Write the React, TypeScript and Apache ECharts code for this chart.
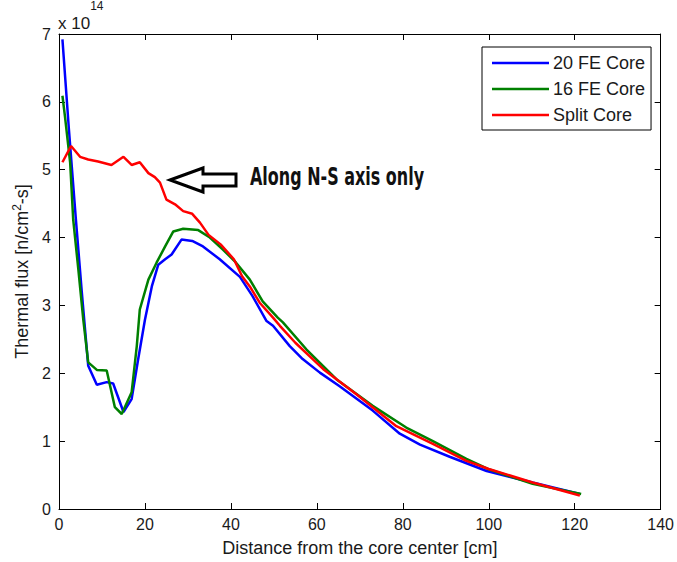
import React, { useEffect, useRef } from "react";
import * as echarts from "echarts";

// Distance from the core center [cm] and thermal flux [x 1e14 n/cm^2-s]
const xBlue = [0.8, 2.3, 3.9, 5.3, 6.8, 8.8, 11.1, 12.6, 15.0, 16.9, 18.4, 20.0, 21.6, 23.1, 24.7, 26.2, 28.5, 31.0, 33.5, 37.4, 42.1, 45.0, 48.3, 49.8, 53.7, 56.7, 60.7, 65.3, 73.0, 79.3, 84.0, 90.9, 99.5, 110.2, 121.2];
const yBlue = [6.92, 5.6, 4.29, 3.2, 2.11, 1.83, 1.87, 1.85, 1.43, 1.62, 2.2, 2.79, 3.28, 3.6, 3.68, 3.75, 3.97, 3.95, 3.87, 3.68, 3.42, 3.14, 2.77, 2.70, 2.40, 2.21, 2.01, 1.81, 1.45, 1.11, 0.95, 0.77, 0.56, 0.39, 0.22];

const xGreen = [0.8, 1.4, 2.6, 3.3, 4.5, 5.65, 6.8, 8.8, 11.1, 13.0, 14.6, 16.9, 18.1, 18.8, 20.8, 22.7, 24.7, 26.6, 28.9, 32.4, 35.1, 38.2, 41.2, 44.4, 47.4, 50.9, 52.1, 57.6, 64.6, 73.0, 80.8, 87.0, 94.8, 99.8, 110.2, 121.5];
const yGreen = [6.09, 5.78, 5.1, 4.27, 3.53, 2.79, 2.16, 2.05, 2.04, 1.5, 1.40, 1.72, 2.40, 2.94, 3.38, 3.63, 3.87, 4.09, 4.13, 4.11, 4.0, 3.82, 3.63, 3.38, 3.06, 2.82, 2.75, 2.35, 1.91, 1.52, 1.2, 1.0, 0.74, 0.59, 0.37, 0.22];

const xRed = [0.8, 2.8, 4.9, 6.8, 9.1, 12.2, 15.0, 16.9, 18.8, 20.8, 22.3, 23.5, 25.0, 27.0, 28.9, 31.0, 32.8, 34.8, 37.6, 40.7, 42.6, 44.4, 46.7, 49.8, 51.4, 55.0, 61.5, 69.2, 78.5, 87.0, 94.8, 100.0, 110.2, 121.2];
const yRed = [5.11, 5.35, 5.19, 5.15, 5.12, 5.07, 5.19, 5.07, 5.11, 4.95, 4.89, 4.81, 4.56, 4.49, 4.39, 4.35, 4.22, 4.04, 3.90, 3.68, 3.43, 3.28, 3.04, 2.82, 2.70, 2.45, 2.06, 1.69, 1.22, 0.96, 0.71, 0.59, 0.39, 0.20];

const seriesNames = ["20 FE Core", "16 FE Core", "Split Core"];
const seriesColors = ["#0000ff", "#008000", "#ff0000"];
const xTicks = { min: 0, max: 140, interval: 20 };
const yTicks = { min: 0, max: 7, interval: 1 };
const annotation = "Along N-S axis only";

const FONT = "'Liberation Sans', Arial, sans-serif";
const NARROW = "'Liberation Sans Narrow', 'DejaVu Sans Condensed', 'Liberation Sans', sans-serif";

const zip = (xs: number[], ys: number[]) => xs.map((x, i) => [x, ys[i]]);

export default function App() {
  const ref = useRef<HTMLDivElement>(null);
  useEffect(() => {
    if (!ref.current) return;
    const chart = echarts.init(ref.current, undefined, { renderer: "svg" });
    const axisLine = { show: true, onZero: false, lineStyle: { color: "#000", width: 1 } };
    const axisTick = { show: true, inside: true, length: 6, lineStyle: { color: "#000", width: 1 } };
    const label = { color: "#1a1a1a", fontSize: 16, fontFamily: FONT };
    const lineIcon = "path://M0,0 L57,0 L57,2.5 L0,2.5 Z";
    const allX = [xBlue, xGreen, xRed];
    const allY = [yBlue, yGreen, yRed];
    chart.setOption({
      animation: false,
      backgroundColor: "#fff",
      grid: { left: 59, right: 16, top: 34, bottom: 52, containLabel: false },
      xAxis: [
        {
          type: "value", ...xTicks, position: "bottom",
          axisLine, axisTick, splitLine: { show: false },
          axisLabel: { ...label, margin: 7 },
          name: "Distance from the core center [cm]", nameLocation: "middle", nameGap: 30,
          nameTextStyle: { color: "#1a1a1a", fontSize: 18, fontFamily: FONT },
        },
        {
          type: "value", ...xTicks, position: "top",
          axisLine, axisTick, splitLine: { show: false }, axisLabel: { show: false },
        },
      ],
      yAxis: [
        {
          type: "value", ...yTicks, position: "left",
          axisLine, axisTick, splitLine: { show: false },
          axisLabel: { ...label, margin: 8 },
          name: "{a|Thermal flux [n/cm}{b|2}{a|-s]}", nameLocation: "middle", nameGap: 28, nameRotate: 90,
          nameTextStyle: {
            color: "#1a1a1a", fontFamily: FONT,
            rich: {
              a: { fontSize: 18, fontFamily: FONT, color: "#1a1a1a", lineHeight: 20, verticalAlign: "bottom" },
              b: { fontSize: 12, fontFamily: FONT, color: "#1a1a1a", lineHeight: 20, verticalAlign: "top" },
            },
          },
        },
        {
          type: "value", ...yTicks, position: "right",
          axisLine, axisTick, splitLine: { show: false }, axisLabel: { show: false },
        },
      ],
      legend: {
        orient: "vertical", left: 482, top: 47,
        itemWidth: 57, itemHeight: 14, itemGap: 8,
        padding: [7, 6, 6, 10],
        borderColor: "#000", borderWidth: 1, backgroundColor: "#fff",
        textStyle: { color: "#1a1a1a", fontSize: 18, lineHeight: 18, fontFamily: FONT, padding: [0, 0, 0, -1] },
        data: seriesNames.map((n) => ({ name: n, icon: lineIcon })),
      },
      graphic: [
        {
          type: "text", left: 58, top: 0,
          style: {
            text: "{a|x 10}{b|14}",
            rich: {
              a: { fontSize: 17, fontFamily: FONT, fill: "#1a1a1a", lineHeight: 32, verticalAlign: "bottom" },
              b: { fontSize: 12, fontFamily: FONT, fill: "#1a1a1a", lineHeight: 24, verticalAlign: "top" },
            },
          },
        },
        {
          type: "polygon",
          shape: { points: [[170, 180], [203, 168], [203, 174], [236, 174], [236, 186], [203, 186], [203, 192]] },
          style: { fill: "#fff", stroke: "#000", lineWidth: 3, lineJoin: "miter" },
        },
        {
          type: "text", x: 250, y: 164, scaleX: 0.74,
          style: { text: annotation, fontSize: 24, fontWeight: "bold", fontFamily: NARROW, fill: "#111", verticalAlign: "top" },
        },
      ],
      series: seriesNames.map((n, i) => ({
        name: n, type: "line", data: zip(allX[i], allY[i]), symbol: "none",
        lineStyle: { color: seriesColors[i], width: 2.5 }, itemStyle: { color: seriesColors[i] },
      })),
    });
    return () => chart.dispose();
  }, []);
  return <div ref={ref} style={{ width: 677, height: 562, position: "absolute", left: 0, top: 0 }} />;
}
